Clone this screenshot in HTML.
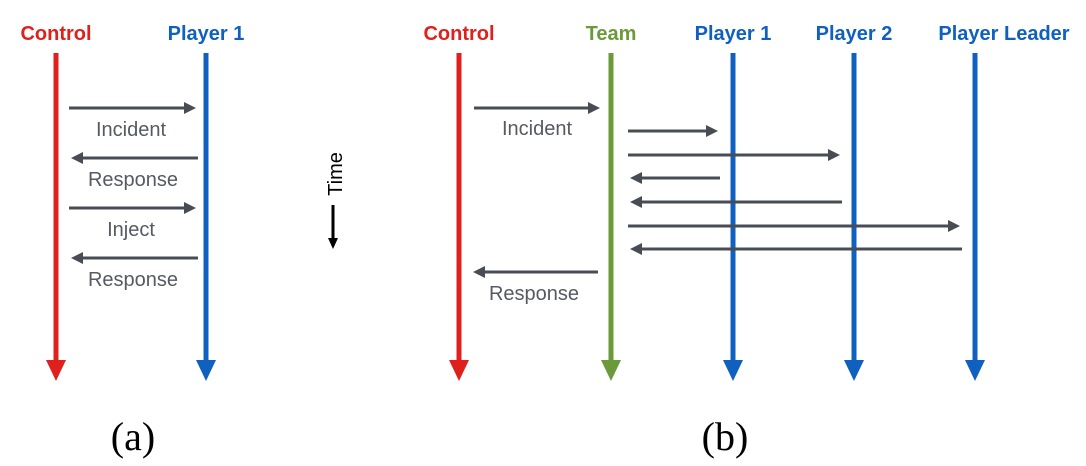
<!DOCTYPE html>
<html><head><style>
body{margin:0;background:#fff}
svg{display:block}
.h{font-family:"Liberation Sans",sans-serif;font-weight:bold;font-size:20px;text-anchor:middle}
.l{font-family:"Liberation Sans",sans-serif;font-size:20px;fill:#555a63;text-anchor:middle}
</style></head><body>
<svg width="1086" height="466" viewBox="0 0 1086 466">
<defs>
<marker id="g" markerWidth="4" markerHeight="4" refX="3" refY="2" orient="auto" markerUnits="strokeWidth"><path d="M0,0 L4,2 L0,4 Z" fill="#474c55"/></marker>
</defs>
<g class="h">
<text x="56" y="40" fill="#e0201c">Control</text>
<text x="206" y="40" fill="#1060c0">Player 1</text>
<text x="459" y="40" fill="#e0201c">Control</text>
<text x="611" y="40" fill="#6a9a3a">Team</text>
<text x="733" y="40" fill="#1060c0">Player 1</text>
<text x="854" y="40" fill="#1060c0">Player 2</text>
<text x="1004" y="40" fill="#1060c0">Player Leader</text>
</g>
<g stroke-width="5">
<line x1="56" y1="53" x2="56" y2="362" stroke="#e0201c"/>
<line x1="206" y1="53" x2="206" y2="362" stroke="#1060c0"/>
<line x1="459" y1="53" x2="459" y2="362" stroke="#e0201c"/>
<line x1="611" y1="53" x2="611" y2="362" stroke="#6a9a3a"/>
<line x1="733" y1="53" x2="733" y2="362" stroke="#1060c0"/>
<line x1="854" y1="53" x2="854" y2="362" stroke="#1060c0"/>
<line x1="975" y1="53" x2="975" y2="362" stroke="#1060c0"/>
</g>
<path d="M46,360 L66,360 L56,381 Z" fill="#e0201c"/>
<path d="M196,360 L216,360 L206,381 Z" fill="#1060c0"/>
<path d="M449,360 L469,360 L459,381 Z" fill="#e0201c"/>
<path d="M601,360 L621,360 L611,381 Z" fill="#6a9a3a"/>
<path d="M723,360 L743,360 L733,381 Z" fill="#1060c0"/>
<path d="M844,360 L864,360 L854,381 Z" fill="#1060c0"/>
<path d="M965,360 L985,360 L975,381 Z" fill="#1060c0"/>
<g stroke="#474c55" stroke-width="3" marker-end="url(#g)">
<line x1="69" y1="108" x2="193" y2="108"/>
<line x1="198" y1="158" x2="74" y2="158"/>
<line x1="69" y1="208" x2="193" y2="208"/>
<line x1="198" y1="258" x2="74" y2="258"/>
<line x1="474" y1="108" x2="597" y2="108"/>
<line x1="628" y1="131" x2="715" y2="131"/>
<line x1="628" y1="155" x2="837" y2="155"/>
<line x1="720" y1="178" x2="633" y2="178"/>
<line x1="842" y1="202" x2="633" y2="202"/>
<line x1="628" y1="226" x2="957" y2="226"/>
<line x1="962" y1="249" x2="633" y2="249"/>
<line x1="598" y1="272" x2="476" y2="272"/>
</g>
<g class="l">
<text x="131" y="136">Incident</text>
<text x="133" y="186">Response</text>
<text x="131" y="236">Inject</text>
<text x="133" y="286">Response</text>
<text x="537" y="135">Incident</text>
<text x="534" y="300">Response</text>
</g>
<text transform="translate(342,174) rotate(-90)" font-family="Liberation Sans,sans-serif" font-size="20" text-anchor="middle" fill="#000">Time</text>
<line x1="333" y1="205" x2="333" y2="240" stroke="#000" stroke-width="3"/>
<path d="M328,238 L338,238 L333,249 Z" fill="#000"/>
<text x="133" y="450" font-family="Liberation Serif,serif" font-size="40" text-anchor="middle">(a)</text>
<text x="725" y="450" font-family="Liberation Serif,serif" font-size="40" text-anchor="middle">(b)</text>
</svg>
</body></html>
